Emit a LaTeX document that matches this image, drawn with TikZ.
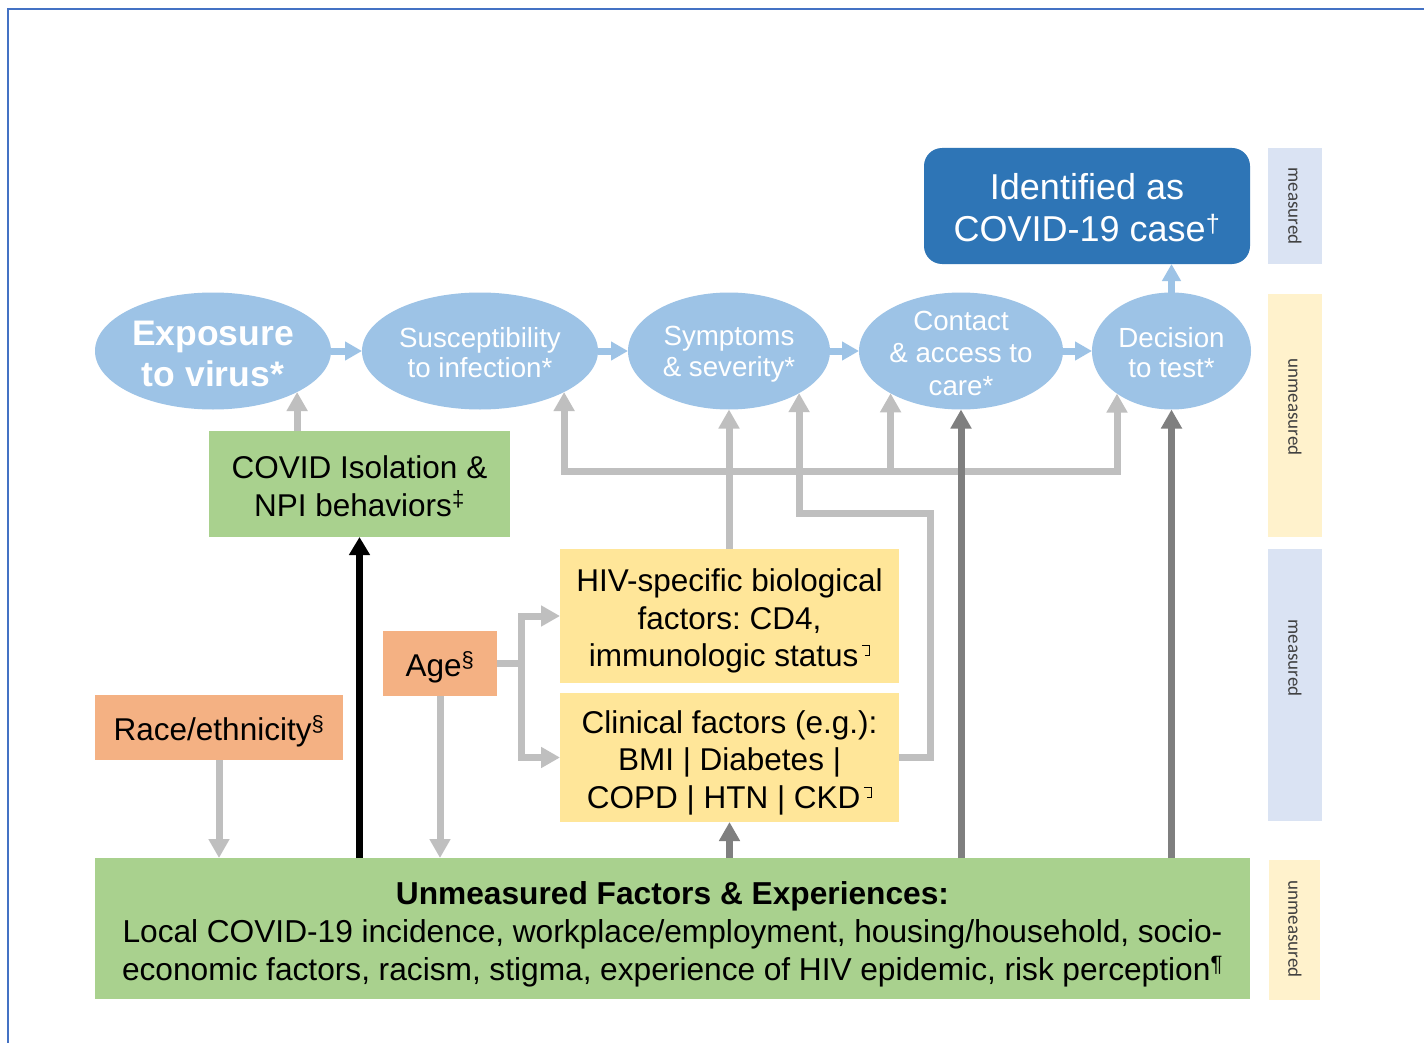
\documentclass[tikz,border=0pt]{standalone}
\usepackage{fontspec}
\setmainfont{Liberation Sans}
\newfontfamily\sidefont{Carlito}
\usetikzlibrary{arrows.meta,shapes.geometric}
\definecolor{ellblue}{HTML}{9DC3E6}
\definecolor{idblue}{HTML}{2E75B6}
\definecolor{boxgreen}{HTML}{A9D18E}
\definecolor{boxorange}{HTML}{F4B183}
\definecolor{boxyellow}{HTML}{FFE699}
\definecolor{sideblue}{HTML}{DAE3F3}
\definecolor{sideyellow}{HTML}{FFF2CC}
\definecolor{lgrey}{HTML}{BFBFBF}
\definecolor{dgrey}{HTML}{7F7F7F}
\definecolor{framec}{HTML}{4472C4}
\definecolor{sidetextc}{HTML}{404040}
\newcommand{\tofu}{\hspace{3pt}\tikz[baseline=0pt,x=1pt,y=1pt]\draw[line width=0.7pt] (0,21)--(8,21)--(8,11)--(3,11);}
\frenchspacing
\begin{document}
\frenchspacing
\begin{tikzpicture}[x=1pt,y=-1pt,
  ell/.style={ellipse, fill=ellblue, inner sep=0pt, outer sep=0pt, minimum height=117pt},
  elltext/.style={text=white, inner sep=0pt, align=center, font=\fontsize{27.7}{30.5}\selectfont},
  box/.style={rectangle, inner sep=0pt, outer sep=0pt},
  boxtext/.style={inner sep=0pt, align=center, font=\fontsize{31.5}{37.5}\selectfont, text=black},
  sidebar/.style={rectangle, inner sep=0pt, outer sep=0pt, minimum width=54pt},
  sidetext/.style={rotate=-90, font=\sidefont\fontsize{19}{22}\selectfont, text=sidetextc, inner sep=0pt},
  blarrow/.style={draw=ellblue, line width=7pt, -{Triangle[length=17pt,width=18pt]}},
  garrow/.style={draw=lgrey, line width=7pt, -{Triangle[length=19pt,width=20pt]}},
  gboth/.style={draw=lgrey, line width=7pt, {Triangle[length=19pt,width=20pt]}-{Triangle[length=19pt,width=20pt]}},
  darrow/.style={draw=dgrey, line width=7pt, -{Triangle[length=19pt,width=20pt]}},
  barrow/.style={draw=black, line width=7pt, -{Triangle[length=18pt,width=20pt]}},
]
\useasboundingbox (0,0) rectangle (1424,1043);
\fill[white] (0,0) rectangle (1424,1043);
\draw[framec, line width=2.5pt] (1424,9) -- (8,9) -- (8,1043);

% side bars
\node[sidebar, fill=sideblue, minimum height=116pt] (sb1) at (1295,206) {};
\node[sidebar, fill=sideyellow, minimum height=243pt] (sb2) at (1295,415.5) {};
\node[sidebar, fill=sideblue, minimum height=272pt] (sb3) at (1295,685) {};
\node[sidebar, fill=sideyellow, minimum width=51pt, minimum height=140pt] (sb4) at (1294.5,929.5) {};
\node[sidetext] (st1) at (1295,206) {measured};
\node[sidetext] (st2) at (1295,407) {unmeasured};
\node[sidetext] (st3) at (1295,658) {measured};
\node[sidetext] (st4) at (1295,929) {unmeasured};

% top box
\node[rectangle, rounded corners=18pt, fill=idblue, minimum width=326pt, minimum height=116pt, inner sep=0pt, outer sep=0pt] (ID) at (1087,206) {};
\node[text=white, inner sep=0pt, align=center, font=\fontsize{36}{41.5}\selectfont] (IDt) at ([yshift=-1.5pt]ID.center) {Identified as\\COVID-19 case\textsuperscript{†}};

% ellipses
\node[ell, minimum width=236pt] (E) at (213,351) {};
\node[ell, minimum width=236pt] (S1) at (480,351) {};
\node[ell, minimum width=202pt] (S2) at (729,351) {};
\node[ell, minimum width=204pt] (C) at (961,351) {};
\node[ell, minimum width=159pt] (D) at (1171.5,351) {};
\node[elltext, font=\fontsize{35.5}{41}\selectfont\bfseries] (Et) at ([yshift=-3pt]E.center) {Exposure\\to virus*};
\node[elltext] (S1t) at ([yshift=-1.5pt]S1.center) {Susceptibility\\to infection*};
\node[elltext] (S2t) at ([yshift=-3pt]S2.center) {Symptoms\\\& severity*};
\node[elltext, font=\fontsize{27.7}{32.5}\selectfont] (Ct) at ([yshift=-2pt]C.center) {Contact\\\& access to\\care*};
\node[elltext] (Dt) at ([yshift=-1.5pt]D.center) {Decision\\to test*};

% boxes
\node[box, fill=boxgreen, minimum width=301pt, minimum height=106pt] (COV) at (359.5,484) {};
\node[boxtext] (COVt) at ([yshift=-2pt]COV.center) {COVID Isolation \&\\NPI behaviors\textsuperscript{‡}};
\node[box, fill=boxorange, minimum width=248pt, minimum height=65pt] (R) at (219,727.5) {};
\node[boxtext] (Rt) at ([yshift=-4pt]R.center) {Race/ethnicity\textsuperscript{§}};
\node[box, fill=boxorange, minimum width=114pt, minimum height=65pt] (A) at (440,663.5) {};
\node[boxtext] (At) at ([yshift=-3.5pt]A.center) {Age\textsuperscript{§}};
\node[box, fill=boxyellow, minimum width=339pt, minimum height=134pt] (HIV) at (729.5,616) {};
\node[boxtext] (HIVt) at ([yshift=-5pt]HIV.center) {HIV-specific biological\\factors: CD4,\\immunologic status\tofu};
\node[box, fill=boxyellow, minimum width=339pt, minimum height=129pt] (CL) at (729.5,757.5) {};
\node[boxtext] (CLt) at ([yshift=-5pt]CL.center) {Clinical factors (e.g.):\\BMI | Diabetes |\\COPD | HTN | CKD\tofu};
\node[box, fill=boxgreen, minimum width=1155pt, minimum height=141pt] (U) at (672.5,928.5) {};
\node[boxtext, font=\fontsize{31.7}{38}\selectfont] (Ut) at ([yshift=-5.5pt]U.center) {\textbf{Unmeasured Factors \& Experiences:}\\\makebox[1100pt][s]{Local COVID-19 incidence, workplace/employment, housing/household, socio-}\\\makebox[1101pt][s]{economic factors, racism, stigma, experience of HIV epidemic, risk perception\textsuperscript{¶}}};

% blue chain arrows
\draw[blarrow] (E.east) -- (S1.west);
\draw[blarrow] (S1.east) -- (S2.west);
\draw[blarrow] (S2.east) -- (C.west);
\draw[blarrow] (C.east) -- (D.west);
\draw[blarrow] (D.north) -- (D.north |- ID.south);

% grey network
\coordinate (bus) at (729,471);
\coordinate (cr) at (930,513);
\coordinate (ab) at (521,663);
\draw[garrow] (E.-26.6 |- COV.north) -- (E.-26.6);
\draw[gboth] (S1.-26.6) -- (S1.-26.6 |- bus) -- (D.-142.5 |- bus) -- (D.-142.5);
\draw[garrow] (C.-149.4 |- bus) -- (C.-149.4);
\draw[garrow] (S2.south |- HIV.north) -- (S2.south);
\draw[garrow] (CL.east) -| (cr) -- (cr -| S2.-31.1) -- (S2.-31.1);
\draw[garrow] (A.east) -- (ab |- A.east) |- (HIV.west);
\draw[garrow] (ab |- A.east) |- (CL.west);
\draw[garrow] (R.south) -- (R.south |- U.north);
\draw[garrow] (A.south) -- (A.south |- U.north);

% dark arrows
\draw[barrow] (COV.south |- U.north) -- (COV.south);
\draw[darrow] (C.south |- U.north) -- (C.south);
\draw[darrow] (D.south |- U.north) -- (D.south);
\draw[darrow] (CL.south |- U.north) -- (CL.south);
\end{tikzpicture}
\end{document}
